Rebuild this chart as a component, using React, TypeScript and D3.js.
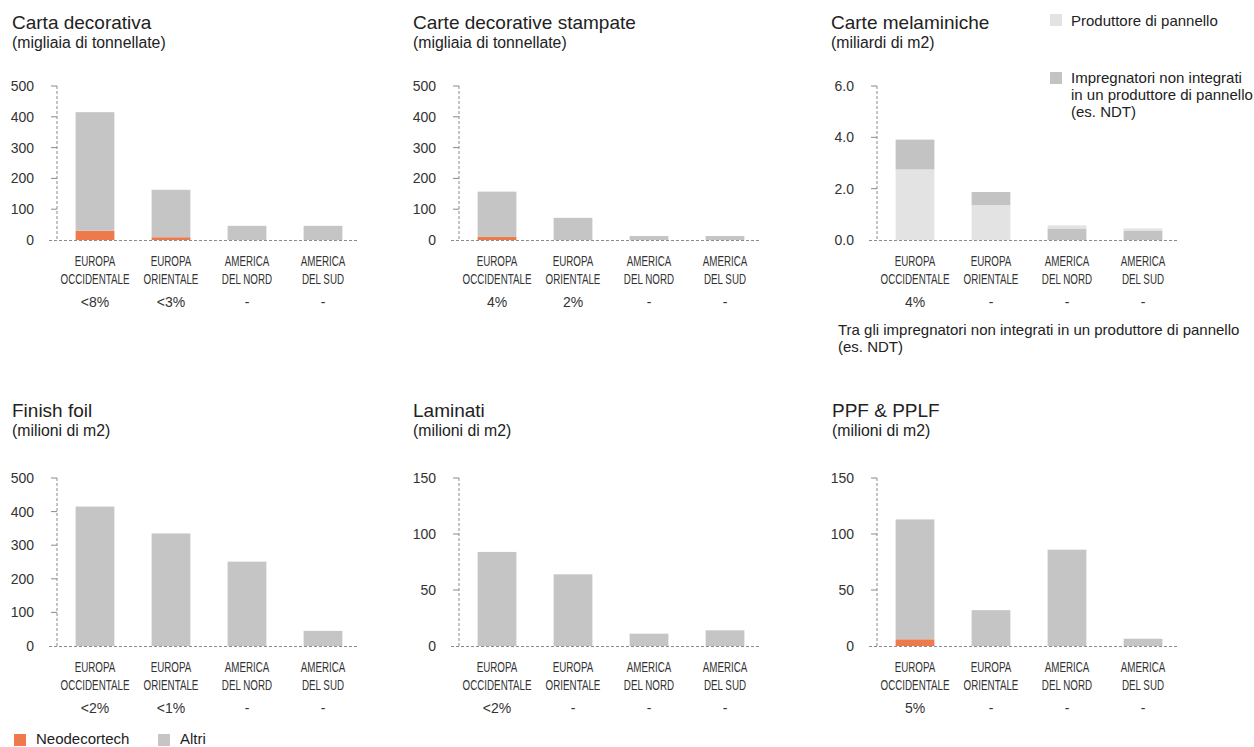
import React from "react";
import * as d3 from "d3";

const categories = ["EUROPA|OCCIDENTALE", "EUROPA|ORIENTALE", "AMERICA|DEL NORD", "AMERICA|DEL SUD"];

const cartaDecorativaNeo = [30, 9, 0, 0];
const cartaDecorativaAltri = [385, 154, 46, 46];
const cartaDecorativaPct = ["<8%", "<3%", "-", "-"];

const stampateNeo = [10, 0, 0, 0];
const stampateAltri = [147, 72, 13, 13];
const stampatePct = ["4%", "2%", "-", "-"];

const melProduttore = [2.75, 1.36, 0.12, 0.1];
const melImpregnatori = [1.16, 0.51, 0.45, 0.35];
const melProduttoreBottom = [true, true, false, false];
const melPct = ["4%", "-", "-", "-"];

const finishFoilNeo = [0, 0, 0, 0];
const finishFoilAltri = [415, 335, 251, 45];
const finishFoilPct = ["<2%", "<1%", "-", "-"];

const laminatiNeo = [0, 0, 0, 0];
const laminatiAltri = [84, 64, 11, 14];
const laminatiPct = ["<2%", "-", "-", "-"];

const ppfNeo = [6, 0, 0, 0];
const ppfAltri = [107, 32, 86, 6.5];
const ppfPct = ["5%", "-", "-", "-"];

const ticks500 = [0, 100, 200, 300, 400, 500];
const ticks6 = [0, 2, 4, 6];
const ticks150 = [0, 50, 100, 150];

const ORANGE = "#ee7a4b";
const GRAY = "#c5c5c5";
const LIGHT = "#e3e3e3";
const DARK = "#c3c3c3";
const TEXT = "#222";
const FONT = "'Liberation Sans', Arial, Helvetica, sans-serif";

type Seg = { value: number; color: string }[];

function Panel(props: {
  x: number; axisX: number; titleY: number; top: number; base: number;
  title: string; subtitle: string; ticks: number[]; fmt: (v: number) => string;
  stacks: Seg[]; pct: string[];
}) {
  const { x, axisX, titleY, top, base, title, subtitle, ticks, fmt, stacks, pct } = props;
  const maxV = ticks[ticks.length - 1];
  const y = d3.scaleLinear().domain([0, maxV]).range([base, top]);
  const xb = d3.scaleBand<string>().domain(categories).range([axisX, axisX + 304]).paddingInner(0.49).paddingOuter(0.245);
  return (
    <g>
      <text x={x} y={titleY} fontSize={19} fill={TEXT} fontFamily={FONT}>{title}</text>
      <text x={x} y={titleY + 18.5} fontSize={15.8} fill={TEXT} fontFamily={FONT}>{subtitle}</text>
      {stacks.map((segs, i) => {
        let acc = 0;
        return segs.map((s, j) => {
          const y0 = y(acc);
          acc += s.value;
          const y1 = y(acc);
          return <rect key={i + "-" + j} x={xb(categories[i])} width={xb.bandwidth()} y={y1} height={Math.max(0, y0 - y1)} fill={s.color} />;
        });
      })}
      <line x1={axisX} x2={axisX} y1={top} y2={base} stroke="#8a8a8a" strokeWidth={1} strokeDasharray="3,2" />
      <line x1={axisX - 8} x2={axisX + 302} y1={base + 0.5} y2={base + 0.5} stroke="#8a8a8a" strokeWidth={1} strokeDasharray="3,2" />
      {ticks.map((t) => (
        <g key={t}>
          {t !== 0 && <line x1={axisX - 6} x2={axisX} y1={y(t)} y2={y(t)} stroke="#8a8a8a" strokeWidth={1} />}
          <text x={axisX - 23} y={y(t) + 5} fontSize={14} textAnchor="end" fill="#333" fontFamily={FONT}>{fmt(t)}</text>
        </g>
      ))}
      {categories.map((c, i) => {
        const cx = (xb(c) as number) + xb.bandwidth() / 2;
        const [l1, l2] = c.split("|");
        return (
          <g key={c}>
            <text transform={`translate(${cx},${base + 26}) scale(0.7,1)`} fontSize={14} textAnchor="middle" fill="#333" fontFamily={FONT}>{l1}</text>
            <text transform={`translate(${cx},${base + 44}) scale(0.7,1)`} fontSize={14} textAnchor="middle" fill="#333" fontFamily={FONT}>{l2}</text>
            <text x={cx} y={base + 67} fontSize={14} textAnchor="middle" fill="#333" fontFamily={FONT}>{pct[i]}</text>
          </g>
        );
      })}
    </g>
  );
}

function neoStacks(neo: number[], altri: number[]): Seg[] {
  return neo.map((n, i) => [{ value: n, color: ORANGE }, { value: altri[i], color: GRAY }]);
}

export default function App() {
  const f0 = d3.format("d");
  const f1 = d3.format(".1f");
  const melStacks: Seg[] = melProduttore.map((p, i) =>
    melProduttoreBottom[i]
      ? [{ value: p, color: LIGHT }, { value: melImpregnatori[i], color: DARK }]
      : [{ value: melImpregnatori[i], color: DARK }, { value: p, color: LIGHT }]
  );
  const topRow = { titleY: 29, top: 86, base: 240 };
  const botRow = { titleY: 417, top: 478, base: 646 };
  return (
    <svg width={1254} height={747} style={{ position: "absolute", left: 0, top: 0, background: "#fff" }}>
      <rect width={1254} height={747} fill="#fff" />
      <Panel x={12} axisX={57} {...topRow} title="Carta decorativa" subtitle="(migliaia di tonnellate)" ticks={ticks500} fmt={f0} stacks={neoStacks(cartaDecorativaNeo, cartaDecorativaAltri)} pct={cartaDecorativaPct} />
      <Panel x={413} axisX={459} {...topRow} title="Carte decorative stampate" subtitle="(migliaia di tonnellate)" ticks={ticks500} fmt={f0} stacks={neoStacks(stampateNeo, stampateAltri)} pct={stampatePct} />
      <Panel x={831} axisX={877} {...topRow} title="Carte melaminiche" subtitle="(miliardi di m2)" ticks={ticks6} fmt={f1} stacks={melStacks} pct={melPct} />
      <Panel x={12} axisX={57} {...botRow} title="Finish foil" subtitle="(milioni di m2)" ticks={ticks500} fmt={f0} stacks={neoStacks(finishFoilNeo, finishFoilAltri)} pct={finishFoilPct} />
      <Panel x={413} axisX={459} {...botRow} title="Laminati" subtitle="(milioni di m2)" ticks={ticks150} fmt={f0} stacks={neoStacks(laminatiNeo, laminatiAltri)} pct={laminatiPct} />
      <Panel x={832} axisX={877} {...botRow} title="PPF & PPLF" subtitle="(milioni di m2)" ticks={ticks150} fmt={f0} stacks={neoStacks(ppfNeo, ppfAltri)} pct={ppfPct} />

      <rect x={1050} y={14} width={12} height={12} fill={LIGHT} />
      <text x={1071} y={26} fontSize={15} fill={TEXT} fontFamily={FONT}>Produttore di pannello</text>
      <rect x={1050} y={72} width={12} height={12} fill={DARK} />
      <text x={1071} y={83} fontSize={15} fill={TEXT} fontFamily={FONT}>Impregnatori non integrati</text>
      <text x={1071} y={100} fontSize={15} fill={TEXT} fontFamily={FONT}>in un produttore di pannello</text>
      <text x={1071} y={117} fontSize={15} fill={TEXT} fontFamily={FONT}>(es. NDT)</text>

      <text x={838} y={335} fontSize={15} fill={TEXT} fontFamily={FONT}>Tra gli impregnatori non integrati in un produttore di pannello</text>
      <text x={838} y={352} fontSize={15} fill={TEXT} fontFamily={FONT}>(es. NDT)</text>

      <rect x={14} y={734} width={12} height={12} fill={ORANGE} />
      <text x={36} y={744} fontSize={15} fill={TEXT} fontFamily={FONT}>Neodecortech</text>
      <rect x={158} y={734} width={12} height={12} fill={GRAY} />
      <text x={180} y={744} fontSize={15} fill={TEXT} fontFamily={FONT}>Altri</text>
    </svg>
  );
}
